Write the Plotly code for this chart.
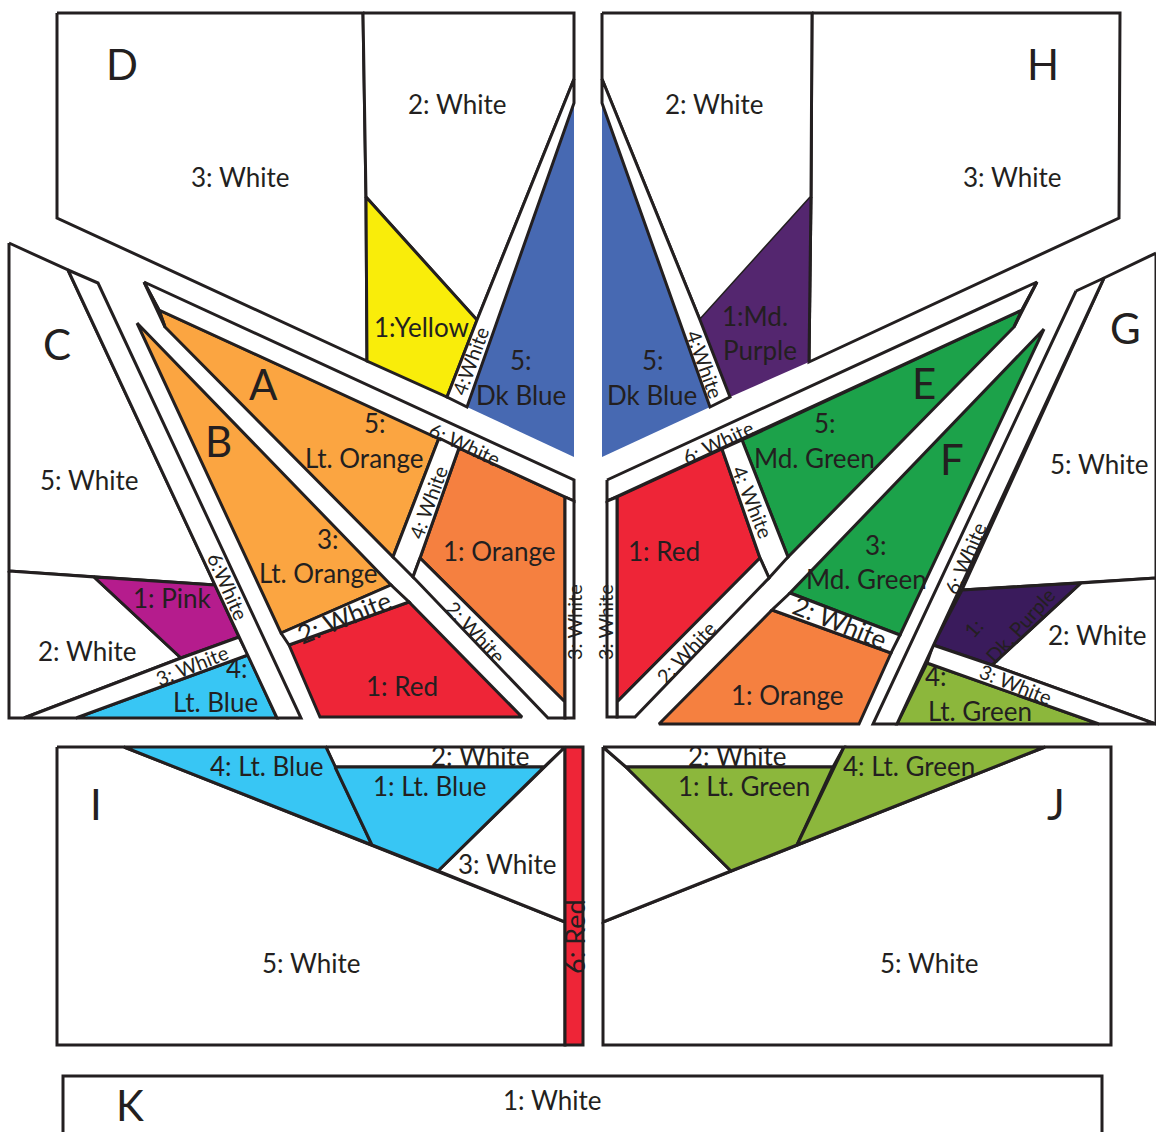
import plotly.graph_objects as go

INK = "#231F20"
WHITE = "#FFFFFF"
YELLOW = "#F9ED0A"
DK_BLUE = "#4769B2"
MD_PURPLE = "#54266F"
DK_PURPLE = "#3A1B5C"
LT_ORANGE = "#FBA541"
ORANGE = "#F58040"
RED = "#EE2537"
PINK = "#B51C8D"
LT_BLUE = "#38C6F4"
MD_GREEN = "#1CA24A"
LT_GREEN = "#8CB73C"

# Panel D
d3 = [(57, 13), (363, 13), (366, 197), (367, 361), (57, 218)]
d2 = [(363, 13), (574, 13), (574, 79), (477, 320), (366, 197)]
d1 = [(366, 197), (477, 320), (447, 397), (367, 361)]
d4 = [(574, 79), (574, 103), (467, 407), (447, 397), (477, 320)]
d5 = [(574, 103), (574, 457), (467, 407)]
# Panel H
h3 = [(812, 13), (1120, 13), (1119, 218), (809, 362), (811, 197)]
h2 = [(602, 13), (812, 13), (811, 197), (700, 320), (602, 79)]
h1 = [(811, 197), (809, 362), (730, 397), (700, 320)]
h4 = [(602, 79), (700, 320), (730, 397), (710, 407), (602, 103)]
h5 = [(602, 103), (710, 407), (602, 457)]
# Panel A
a6 = [(144, 282), (574, 480), (574, 501), (159, 310)]
a5 = [(159, 310), (439, 438), (393, 557), (165, 327)]
a4 = [(439, 438), (459, 448), (420, 558), (413, 577), (393, 557)]
a1 = [(459, 448), (565, 497), (565, 702), (420, 558)]
a2 = [(420, 558), (565, 702), (565, 718), (548, 718), (413, 577)]
a3 = [(565, 497), (574, 501), (574, 718), (565, 718)]
a_tip = [(144, 282), (159, 310), (165, 327)]
# Panel B
b3 = [(137, 323), (391, 585), (281, 633)]
b2 = [(281, 633), (391, 585), (409, 602), (289, 645)]
b1 = [(289, 645), (409, 602), (522, 717), (320, 717)]
# Panel C
c5 = [(9, 243), (68, 270), (215, 585), (94, 577), (9, 571)]
c2 = [(9, 571), (94, 577), (181, 658), (24, 718), (9, 718)]
c1 = [(94, 577), (215, 585), (239, 637), (181, 658)]
c3 = [(181, 658), (239, 637), (248, 655), (76, 718), (24, 718)]
c4 = [(76, 718), (248, 655), (277, 718)]
c6 = [(68, 270), (98, 283), (301, 718), (277, 718)]
# Panel E
e6 = [(607, 480), (1037, 282), (1022, 310), (607, 501)]
e5 = [(742, 440), (1022, 310), (1014, 327), (788, 557)]
e4 = [(722, 449), (742, 440), (788, 557), (769, 578), (760, 558)]
e1 = [(617, 497), (722, 449), (760, 558), (617, 702)]
e2 = [(617, 702), (760, 558), (769, 578), (635, 717), (617, 717)]
e3 = [(607, 501), (617, 497), (617, 717), (607, 717)]
e_tip = [(1037, 282), (1022, 310), (1014, 327)]
# Panel F
f3 = [(1044, 329), (900, 635), (790, 593)]
f2 = [(790, 593), (900, 635), (891, 653), (772, 610)]
f1 = [(772, 610), (891, 653), (859, 724), (659, 724)]
# Panel G
g5 = [(1156, 253), (1104, 278), (962, 590), (1081, 583), (1156, 578)]
g2 = [(1081, 583), (1156, 578), (1156, 724), (992, 665)]
g1 = [(962, 590), (1081, 583), (992, 665), (933, 645)]
g3 = [(933, 645), (992, 665), (1156, 724), (1099, 724), (927, 663)]
g4 = [(927, 663), (1099, 724), (897, 724)]
g6 = [(1076, 291), (1104, 278), (897, 724), (873, 724)]
# Panel I
i5 = [(57, 747), (124, 747), (565, 922), (565, 1045), (57, 1045)]
i4 = [(124, 747), (326, 747), (372, 845)]
i1 = [(335, 767), (544, 767), (438, 871), (372, 845)]
i2 = [(326, 747), (565, 747), (544, 767), (335, 767)]
i3 = [(565, 747), (565, 922), (438, 871), (544, 767)]
i6 = [(565, 747), (583, 747), (583, 1045), (565, 1045)]
# Panel J
j5 = [(603, 922), (1045, 747), (1111, 747), (1111, 1045), (603, 1045)]
j3 = [(603, 747), (626, 767), (731, 871), (603, 922)]
j2 = [(603, 747), (844, 747), (833, 767), (626, 767)]
j1 = [(626, 767), (833, 767), (797, 845), (731, 871)]
j4 = [(844, 747), (1045, 747), (797, 845)]
# Panel K
k1 = [(63, 1140), (63, 1076), (1102, 1076), (1102, 1140)]
# Edges drawn alone, where a neighbour has a fill with no outline
h1_edge = [(811, 197), (809, 362)]

# piece, fill, outlined
pieces = [
    (d3, WHITE, True), (d2, WHITE, True), (d5, DK_BLUE, False), (d1, YELLOW, True), (d4, WHITE, True),
    (h3, WHITE, True), (h2, WHITE, True), (h5, DK_BLUE, False), (h1, MD_PURPLE, False), (h4, WHITE, True),
    (a5, LT_ORANGE, True), (a1, ORANGE, True), (a6, WHITE, True), (a4, WHITE, True), (a2, WHITE, True),
    (a3, WHITE, True), (a_tip, WHITE, True),
    (b3, LT_ORANGE, True), (b1, RED, True), (b2, WHITE, True),
    (c5, WHITE, True), (c2, WHITE, True), (c1, PINK, True), (c4, LT_BLUE, True), (c3, WHITE, True), (c6, WHITE, True),
    (e5, MD_GREEN, True), (e1, RED, True), (e6, WHITE, True), (e4, WHITE, True), (e2, WHITE, True),
    (e3, WHITE, True), (e_tip, WHITE, True),
    (f3, MD_GREEN, True), (f1, ORANGE, True), (f2, WHITE, True),
    (g5, WHITE, True), (g2, WHITE, True), (g1, DK_PURPLE, True), (g4, LT_GREEN, True), (g3, WHITE, True), (g6, WHITE, True),
    (i5, WHITE, True), (i3, WHITE, True), (i2, WHITE, True), (i4, LT_BLUE, True), (i1, LT_BLUE, True), (i6, RED, True),
    (j5, WHITE, True), (j3, WHITE, True), (j2, WHITE, True), (j1, LT_GREEN, True), (j4, LT_GREEN, True),
    (k1, WHITE, True),
]

letters = [("D", 122, 64), ("H", 1043, 64), ("C", 57, 344), ("A", 263, 384), ("B", 218, 441),
           ("G", 1125, 328), ("E", 924, 383), ("F", 952, 459), ("I", 96, 804), ("J", 1056, 804), ("K", 130, 1105)]

labels = [
    ("3: White", 240, 177), ("2: White", 457, 104), ("1:Yellow", 421, 327), ("5:", 521, 360), ("Dk Blue", 521, 395),
    ("2: White", 714, 104), ("3: White", 1012, 177), ("1:Md.", 755, 316), ("Purple", 760, 350),
    ("5:", 653, 360), ("Dk Blue", 652, 395),
    ("5: White", 89, 480), ("5:", 375, 423), ("Lt. Orange", 364, 458), ("1: Orange", 499, 551),
    ("3:", 328, 539), ("Lt. Orange", 318, 573), ("1: Pink", 172, 598), ("2: White", 87, 651),
    ("4:", 237, 668), ("Lt. Blue", 215, 702), ("1: Red", 402, 686),
    ("5:", 825, 423), ("Md. Green", 814, 458), ("5: White", 1099, 464), ("1: Red", 664, 551),
    ("3:", 876, 545), ("Md. Green", 866, 579), ("1: Orange", 787, 695), ("2: White", 1097, 635),
    ("4:", 936, 676), ("Lt. Green", 980, 711),
    ("4: Lt. Blue", 266, 766), ("2: White", 480, 756), ("1: Lt. Blue", 429, 786), ("3: White", 507, 864),
    ("5: White", 311, 963), ("2: White", 737, 756), ("1: Lt. Green", 744, 786), ("4: Lt. Green", 909, 766),
    ("5: White", 929, 963), ("1: White", 552, 1100),
]

# text, x, y, angle, size
turned_labels = [
    ("4:White", 470, 361, -70, 20), ("4:White", 705, 364, 70, 20),
    ("6: White", 465, 444, 25, 20), ("4: White", 428, 502, -70, 20), ("6:White", 228, 586, 66, 20),
    ("2: White", 344, 617, -22, 26), ("2: White", 476, 632, 47, 20), ("3: White", 574, 622, -90, 20),
    ("3: White", 192, 665, -22, 20),
    ("6: White", 718, 442, -25, 20), ("4: White", 753, 502, 68, 20), ("6: White", 965, 558, -67, 20),
    ("2: White", 840, 622, 22, 26), ("2: White", 686, 652, -47, 20), ("3: White", 605, 622, -90, 20),
    ("1:", 973, 628, -48, 20), ("Dk. Purple", 1020, 625, -48, 20), ("3: White", 1016, 684, 22, 20),
    ("6: Red", 574, 937, -90, 27),
]

FONT = "Lato"
fig = go.Figure()


def unzip(points):
    return [p[0] for p in points], [p[1] for p in points]


for points, fill, outlined in pieces:
    xs, ys = unzip(points)
    fig.add_trace(go.Scatter(
        x=xs + xs[:1], y=ys + ys[:1], mode="lines", fill="toself", fillcolor=fill,
        line=dict(color=INK if outlined else fill, width=3 if outlined else 0),
        hoverinfo="skip", showlegend=False,
    ))

xs, ys = unzip(h1_edge)
fig.add_trace(go.Scatter(x=xs, y=ys, mode="lines", line=dict(color=INK, width=3),
                         hoverinfo="skip", showlegend=False))

annotations = []
for text, x, y in letters:
    annotations.append(dict(text=text, x=x, y=y, font=dict(size=42, color=INK, family=FONT)))
for text, x, y in labels:
    annotations.append(dict(text=text, x=x, y=y, font=dict(size=26, color=INK, family=FONT)))
for text, x, y, angle, size in turned_labels:
    annotations.append(dict(text=text, x=x, y=y, textangle=angle, font=dict(size=size, color=INK, family=FONT)))
for a in annotations:
    a.update(xref="x", yref="y", showarrow=False, xanchor="center", yanchor="middle")

fig.update_layout(
    width=1156, height=1132, margin=dict(l=0, r=0, t=0, b=0),
    paper_bgcolor=WHITE, plot_bgcolor=WHITE, annotations=annotations,
    xaxis=dict(range=[0, 1156], visible=False, fixedrange=True),
    yaxis=dict(range=[1132, 0], visible=False, fixedrange=True),
)
fig.write_html("out.html", config={"displayModeBar": False},
               post_script="document.body.style.margin='0';document.documentElement.style.overflow='hidden';")
